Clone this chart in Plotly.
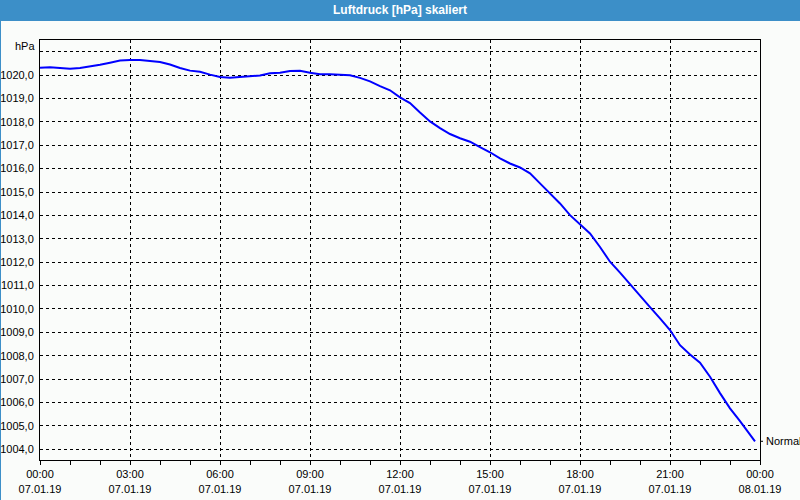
import plotly.graph_objects as go
import pandas as pd

# time offsets in minutes from 07.01.2019 00:00 (every 20 min)
minutes = [i * 20 for i in range(72)] + [1430]
pressure = [
    1020.31, 1020.33, 1020.30, 1020.27, 1020.30, 1020.36, 1020.44, 1020.53, 1020.62,
    1020.64, 1020.64, 1020.60, 1020.56, 1020.45, 1020.30, 1020.19, 1020.14, 1020.02,
    1019.92, 1019.89, 1019.92, 1019.93, 1019.98, 1020.08, 1020.10, 1020.17, 1020.18,
    1020.10, 1020.04, 1020.04, 1020.01, 1019.99, 1019.88, 1019.73, 1019.53, 1019.35,
    1019.05, 1018.80, 1018.40, 1018.02, 1017.73, 1017.48, 1017.30, 1017.15, 1016.92,
    1016.70, 1016.44, 1016.22, 1016.05, 1015.80, 1015.37, 1014.94, 1014.51, 1014.01,
    1013.63, 1013.23, 1012.65, 1012.02, 1011.55, 1011.05, 1010.57, 1010.08, 1009.60,
    1009.10, 1008.45, 1008.05, 1007.70, 1007.10, 1006.40, 1005.75, 1005.20, 1004.65,
    1004.34,
]
start = pd.Timestamp("2019-01-07 00:00")
times = [start + pd.Timedelta(minutes=m) for m in minutes]

tick_times = [start + pd.Timedelta(hours=h) for h in range(0, 25, 3)]
tick_text = [t.strftime("%H:%M") + "<br>" + t.strftime("%d.%m.%y") for t in tick_times]

y_vals = list(range(1004, 1022))
y_text = [f"{v},0" if v <= 1020 else "" for v in y_vals]

title = "Luftdruck [hPa] skaliert"
y_unit = "hPa"
series_name = "Normal"

font_family = "Liberation Sans, Arial, sans-serif"

fig = go.Figure()
fig.add_trace(go.Scatter(
    x=times, y=pressure, mode="lines", name=series_name,
    line=dict(color="#0000ff", width=2),
    hoverinfo="skip",
))

fig.update_layout(
    width=800, height=500,
    margin=dict(l=40, r=40, t=40, b=40, autoexpand=False),
    paper_bgcolor="#fafcfa", plot_bgcolor="#fafcfa",
    showlegend=False,
    font=dict(family=font_family, size=11, color="#000000"),
    separators=",.",
)
fig.update_xaxes(
    range=[start, start + pd.Timedelta(hours=24)],
    tickvals=tick_times, ticktext=tick_text, automargin=False,
    showgrid=True, gridcolor="#000000", gridwidth=1, griddash="3px,3px",
    showline=True, linecolor="#000000", linewidth=1, mirror=True,
    ticks="outside", ticklen=4, tickcolor="#000000",
    minor=dict(dtick=3600000, ticks="outside", ticklen=4, tickcolor="#000000", showgrid=False),
    zeroline=False, tickfont=dict(size=11),
)
fig.update_yaxes(
    range=[1003.54, 1021.5],
    tickvals=y_vals, ticktext=y_text, automargin=False,
    showgrid=True, gridcolor="#000000", gridwidth=1, griddash="3px,3px",
    showline=True, linecolor="#000000", linewidth=1, mirror=True,
    ticks="", zeroline=False, tickfont=dict(size=11), ticklabelstandoff=3,
)

# title bar
fig.add_shape(type="rect", xref="paper", yref="paper", x0=-0.06, x1=1.06,
              y0=1 + 19/420, y1=1 + 41/420, fillcolor="#3c8fc8", line_width=0, layer="below")
fig.add_shape(type="line", xref="paper", yref="paper", x0=-39.5/720, x1=-39.5/720,
              y0=-40/420, y1=1 + 19/420, line=dict(color="#3c8fc8", width=1))
fig.add_annotation(text=f"<b>{title}</b>", xref="paper", yref="paper", x=0.5, y=1 + 30/420,
                   showarrow=False, font=dict(color="#ffffff", size=12, family=font_family),
                   xanchor="center", yanchor="middle")
fig.add_annotation(text=y_unit, xref="paper", yref="paper", x=-3/720, y=1 - 6/420,
                   showarrow=False, xanchor="right", yanchor="middle", font=dict(size=11))
# series label at right
fig.add_shape(type="line", xref="paper", yref="y", x0=1, x1=1 + 3/720,
              y0=pressure[-1], y1=pressure[-1], line=dict(color="#000000", width=1))
fig.add_annotation(text=series_name, xref="paper", yref="y", x=1 + 4/720, y=pressure[-1],
                   showarrow=False, xanchor="left", yanchor="middle", font=dict(size=11))

fig.write_html("out.html")
